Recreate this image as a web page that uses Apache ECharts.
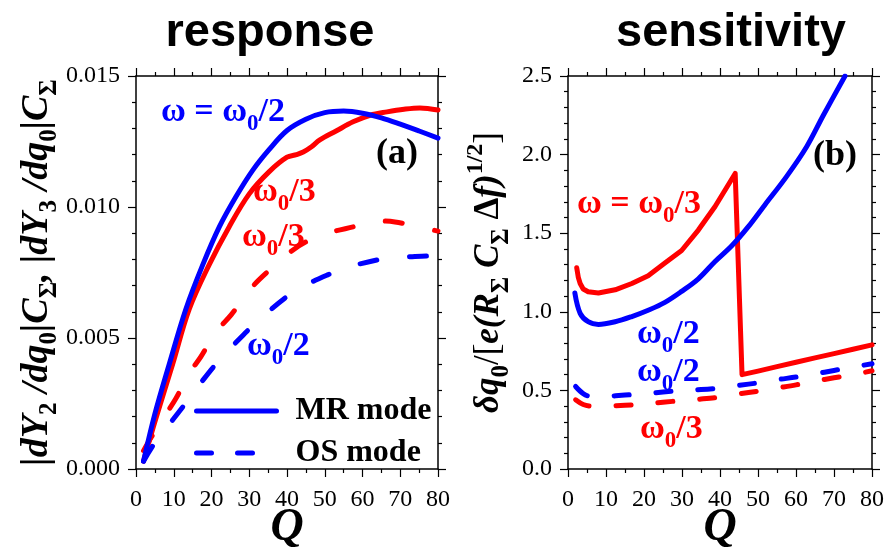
<!DOCTYPE html>
<html>
<head>
<meta charset="utf-8">
<script src="https://cdn.jsdelivr.net/npm/echarts@6/dist/echarts.min.js"></script>
<style>
  html, body { margin: 0; padding: 0; background: #fff; }
  #chart { width: 884px; height: 553px; }
</style>
</head>
<body>
<div id="chart"></div>
<script>
// ---- data ----
// (a) response, left panel
var qMrHalfL = [2, 5, 8.8, 13.2, 17.7, 22.1, 26.5, 30.9, 35.3, 40, 45, 50, 55, 60, 65, 70, 75, 80];
var mrHalfL = [0.0003, 0.0021, 0.0040, 0.0061, 0.0078, 0.00925, 0.0104, 0.0114, 0.0122, 0.01292, 0.01335, 0.0136, 0.01366, 0.01358, 0.0134, 0.01316, 0.0129, 0.01263];

var qMrThirdL = [2, 5, 9.7, 14.1, 19.4, 24.7, 30, 35.3, 40, 42.5, 44.3, 46.5, 48.7, 53, 57.5, 62, 66.5, 71, 75.2, 80];
var mrThirdL = [0.0003, 0.0018, 0.0040, 0.0061, 0.0078, 0.00925, 0.0105, 0.01135, 0.0119, 0.0120, 0.0121, 0.0123, 0.01256, 0.0129, 0.01325, 0.0135, 0.01363, 0.01373, 0.01378, 0.0137];

var qOsThirdL = [2, 4, 7.5, 10.6, 14.1, 17.2, 21.2, 25.2, 30.5, 34.9, 41.6, 46, 52, 57.5, 63.8, 68.6, 74.7, 80];
var osThirdL = [0.0007, 0.0012, 0.0020, 0.0027, 0.00365, 0.00429, 0.00524, 0.00588, 0.0069, 0.00753, 0.00836, 0.00874, 0.00905, 0.00924, 0.00947, 0.00943, 0.00924, 0.00908];

var qOsHalfL = [2, 5, 9.7, 13.1, 18.1, 22.1, 28.3, 33.1, 39.5, 44, 50.6, 55.9, 61.5, 66.5, 72.6, 77.9, 80];
var osHalfL = [0.0003, 0.001, 0.00187, 0.0025, 0.00346, 0.00416, 0.0051, 0.00575, 0.00653, 0.00695, 0.0074, 0.0077, 0.0079, 0.00805, 0.0081, 0.00813, 0.00813];

// (b) sensitivity, right panel
var qMrHalfR = [1.8, 3.2, 5.3, 8, 12.4, 16.8, 21.1, 25.5, 29.9, 34.3, 38.7, 43.1, 47.4, 51.8, 57.5, 62.8, 67.2, 72.9];
var mrHalfR = [1.12, 0.99, 0.937, 0.92, 0.937, 0.97, 1.01, 1.06, 1.13, 1.21, 1.32, 1.42, 1.54, 1.68, 1.86, 2.05, 2.25, 2.5];

var qMrThirdR = [2.3, 2.7, 3.2, 4, 5.3, 8, 12.4, 16.8, 21.1, 25.5, 29.9, 34.3, 38.7, 44, 45.8, 50, 55, 60, 65, 70, 75, 80];
var mrThirdR = [1.28, 1.22, 1.18, 1.145, 1.128, 1.12, 1.14, 1.18, 1.23, 1.31, 1.39, 1.52, 1.67, 1.88, 0.60, 0.623, 0.651, 0.679, 0.707, 0.734, 0.762, 0.79];

var qOsR = [2, 4, 6.2, 10, 15, 20, 25, 30, 35, 40, 45, 50, 55, 60, 65, 70, 75, 80];
var osHalfR = [0.525, 0.48, 0.46, 0.462, 0.47, 0.478, 0.49, 0.50, 0.505, 0.515, 0.532, 0.548, 0.568, 0.585, 0.605, 0.627, 0.648, 0.67];
var osThirdR = [0.44, 0.41, 0.40, 0.40, 0.405, 0.413, 0.425, 0.435, 0.445, 0.458, 0.478, 0.495, 0.515, 0.535, 0.558, 0.58, 0.60, 0.625];

var xTicks = { min: 0, max: 80, interval: 10 };
var legendNames = ['MR mode', 'OS mode'];

var BLUE = '#0000ff';
var RED = '#ff0000';
var SERIF = "'Liberation Serif', 'Times New Roman', serif";
var SANS = "'Liberation Sans', Arial, sans-serif";

function zip(xs, ys) {
    return xs.map(function (x, i) { return [x, ys[i]]; });
}

var chart = echarts.init(document.getElementById('chart'), null, { renderer: 'canvas' });

function xAxisFor(grid, pos) {
    return {
        type: 'value', gridIndex: grid, position: pos,
        min: xTicks.min, max: xTicks.max, interval: xTicks.interval,
        axisLine: { show: true, onZero: false, lineStyle: { color: '#000', width: 1.5 } },
        axisTick: { show: true, inside: false, length: 8, lineStyle: { color: '#000', width: 1.2 } },
        minorTick: { show: true, splitNumber: 2, length: 4, lineStyle: { color: '#000', width: 1.2 } },
        splitLine: { show: false },
        axisLabel: { show: pos === 'bottom', color: '#000', fontFamily: SERIF, fontSize: 24, margin: 19 },
        name: pos === 'bottom' ? 'Q' : '',
        nameLocation: 'middle', nameGap: 36, nameMoveOverlap: false,
        nameTextStyle: { fontFamily: SERIF, fontSize: 46, fontWeight: 'bold', fontStyle: 'italic', color: '#000' }
    };
}

function yAxisFor(grid, pos, max, interval, digits, name, gap, size) {
    return {
        type: 'value', gridIndex: grid, position: pos,
        min: 0, max: max, interval: interval,
        axisLine: { show: true, onZero: false, lineStyle: { color: '#000', width: 1.5 } },
        axisTick: { show: true, inside: false, length: 8, lineStyle: { color: '#000', width: 1.2 } },
        minorTick: { show: true, splitNumber: 5, length: 4, lineStyle: { color: '#000', width: 1.2 } },
        splitLine: { show: false },
        axisLabel: {
            show: pos === 'left', color: '#000', fontFamily: SERIF, fontSize: 24, margin: 16,
            formatter: function (v) { return v.toFixed(digits); }
        },
        name: pos === 'left' ? name : '',
        nameLocation: 'middle', nameRotate: 90, nameGap: gap, nameMoveOverlap: false,
        nameTextStyle: {
            color: '#000',
            rich: {
                b: { fontFamily: SERIF, fontSize: size, fontWeight: 'bold', fontStyle: 'italic', lineHeight: 50 },
                u: { fontFamily: SERIF, fontSize: size, fontWeight: 'bold', lineHeight: 50 },
                r: { fontFamily: SERIF, fontSize: size, lineHeight: 50 },
                s: { fontFamily: SERIF, fontSize: 25, fontWeight: 'bold', lineHeight: 26, verticalAlign: 'bottom' },
                p: { fontFamily: SERIF, fontSize: 24, fontWeight: 'bold', lineHeight: 26, verticalAlign: 'top' }
            }
        }
    };
}

function line(name, data, color, dashed, xi, yi, dash) {
    return {
        name: name, type: 'line', data: data,
        xAxisIndex: xi, yAxisIndex: yi,
        symbol: 'none', smooth: 0.35,
        lineStyle: { color: color, width: 5, type: dashed ? dash : 'solid', cap: 'round', join: 'round' },
        itemStyle: { color: color },
        silent: true, animation: false, z: color === RED ? 3 : 4
    };
}

// little helper for the in-plot rich labels
function label(x, baseline, parts, color) {
    return {
        type: 'text', x: x, y: baseline - 35, z: 10,
        style: {
            text: parts, fill: color, verticalAlign: 'top', align: 'left',
            rich: {
                a: { fontFamily: SERIF, fontSize: 34, fontWeight: 'bold', lineHeight: 48, fill: color },
                s: { fontFamily: SERIF, fontSize: 23, fontWeight: 'bold', lineHeight: 24, verticalAlign: 'bottom', fill: color },
                k: { fontFamily: SERIF, fontSize: 36, fontWeight: 'bold', lineHeight: 48, fill: color }
            }
        }
    };
}

var leftName = '{b||dY}{s|2}{b| /dq}{s|0}{b||C}{s|Σ}{b|, |dY}{s|3}{b| /dq}{s|0}{b||C}{s|Σ}';
var rightName = '{b|δq}{s|0}{r|/[}{b|e(R}{s|Σ}{b| C}{s|Σ}{u| Δ}{b|f)}{p|1/2}{r|]}';

var option = {
    backgroundColor: '#ffffff',
    animation: false,
    grid: [
        { left: 136, right: 446, top: 76, bottom: 84, outerBoundsMode: 'none' },
        { left: 568, right: 12, top: 76, bottom: 84, outerBoundsMode: 'none' }
    ],
    xAxis: [
        xAxisFor(0, 'bottom'), xAxisFor(0, 'top'),
        xAxisFor(1, 'bottom'), xAxisFor(1, 'top')
    ],
    yAxis: [
        yAxisFor(0, 'left', 0.015, 0.005, 3, leftName, 74, 38),
        yAxisFor(0, 'right', 0.015, 0.005, 3, '', 0, 38),
        yAxisFor(1, 'left', 2.5, 0.5, 1, rightName, 54, 35),
        yAxisFor(1, 'right', 2.5, 0.5, 1, '', 0, 35)
    ],
    legend: {
        orient: 'vertical', left: 189, top: 390,
        selectedMode: false,
        itemWidth: 80, itemHeight: 14, itemGap: 10,
        lineStyle: { width: 5 },
        itemStyle: { color: 'rgba(0,0,0,0)', borderColor: 'rgba(0,0,0,0)', borderWidth: 0, opacity: 0 },
        textStyle: { fontFamily: SERIF, fontSize: 32, fontWeight: 'bold', color: '#000', lineHeight: 32, padding: [0, 0, 0, 14] },
        data: [
            { name: legendNames[0] },
            { name: legendNames[1], lineStyle: { type: [15, 26] } }
        ]
    },
    series: [
        line('ω0/3 MR a', zip(qMrThirdL, mrThirdL), RED, false, 0, 0),
        line(legendNames[0], zip(qMrHalfL, mrHalfL), BLUE, false, 0, 0),
        line('ω0/3 OS a', zip(qOsThirdL, osThirdL), RED, true, 0, 0, [17, 33]),
        line(legendNames[1], zip(qOsHalfL, osHalfL), BLUE, true, 0, 0, [17, 33]),
        line('ω0/2 MR b', zip(qMrHalfR, mrHalfR), BLUE, false, 2, 2),
        Object.assign(line('ω0/3 MR b', zip(qMrThirdR, mrThirdR), RED, false, 2, 2), { smooth: false }),
        line('ω0/3 OS b', zip(qOsR, osThirdR), RED, true, 2, 2, [15, 27]),
        line('ω0/2 OS b', zip(qOsR, osHalfR), BLUE, true, 2, 2, [15, 27])
    ],
    graphic: [
        { type: 'text', x: 270, y: 10, style: { text: 'response', fill: '#000', align: 'center', verticalAlign: 'top', fontFamily: SANS, fontSize: 47, fontWeight: 'bold' } },
        { type: 'text', x: 731, y: 10, style: { text: 'sensitivity', fill: '#000', align: 'center', verticalAlign: 'top', fontFamily: SANS, fontSize: 47, fontWeight: 'bold' } },
        label(161, 123, '{a|ω = ω}{s|0}{a|/2}', BLUE),
        label(253, 203, '{a|ω}{s|0}{a|/3}', RED),
        label(242, 248, '{a|ω}{s|0}{a|/3}', RED),
        label(247, 357, '{a|ω}{s|0}{a|/2}', BLUE),
        label(376, 165, '{k|(a)}', '#000'),
        label(577, 215, '{a|ω = ω}{s|0}{a|/3}', RED),
        label(637, 345, '{a|ω}{s|0}{a|/2}', BLUE),
        label(637, 383, '{a|ω}{s|0}{a|/2}', BLUE),
        label(640, 440, '{a|ω}{s|0}{a|/3}', RED),
        label(813, 167, '{k|(b)}', '#000')
    ]
};

chart.setOption(option);
</script>
</body>
</html>
